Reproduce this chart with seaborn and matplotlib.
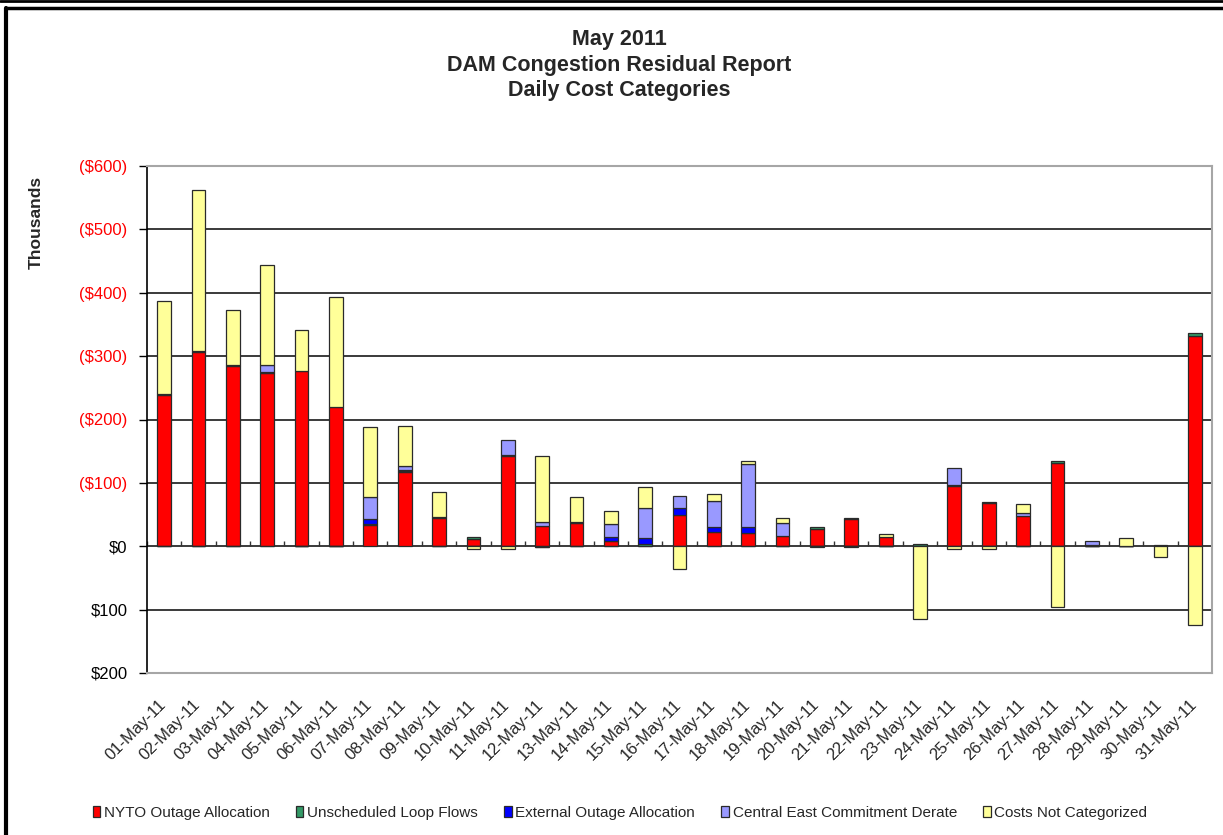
import numpy as np
import matplotlib
matplotlib.use("Agg")
import matplotlib.pyplot as plt
import matplotlib.transforms as mtransforms
import seaborn as sns
from matplotlib.lines import Line2D

# ---------------- data (thousands of $; negative = cost, drawn upward) ----------------
dates = ["01-May-11", "02-May-11", "03-May-11", "04-May-11", "05-May-11", "06-May-11",
         "07-May-11", "08-May-11", "09-May-11", "10-May-11", "11-May-11", "12-May-11",
         "13-May-11", "14-May-11", "15-May-11", "16-May-11", "17-May-11", "18-May-11",
         "19-May-11", "20-May-11", "21-May-11", "22-May-11", "23-May-11", "24-May-11",
         "25-May-11", "26-May-11", "27-May-11", "28-May-11", "29-May-11", "30-May-11",
         "31-May-11"]

nyto_outage = [-238, -306, -284, -273, -276, -220, -34, -117, -45, -12, -143, -32, -37, -8, 0,
               -49, -23, -21, -16, -28, -43, -15, -1, -95, -68, -47, -132, 0, 0, 0, -331]
loop_flows = [-2, -2, -2, -2, 0, 0, -1, -2, -1, -2, -1, 1, -2, 0, -3,
              0, 0, 0, 0, -2, -2, 0, -2, -2, -2, 0, -3, -2, 0, -2, -6]
external_outage = [0, 0, 0, 0, 0, 0, -8, -1, 0, 0, 0, 0, 0, -6, -10,
                   -11, -7, -9, 0, 0, 0, 0, 0, 0, 0, 0, 0, 0, 0, 0, 0]
central_east = [0, 0, 0, -11, 0, 0, -34, -6, 0, 0, -23, -7, 0, -21, -47,
                -19, -41, -100, -20, 0, 0, 0, 0, -27, 0, -6, 0, -6, 0, 0, 0]
not_categorized = [-147, -254, -87, -158, -66, -173, -111, -64, -40, 4, 5, -104, -38, -21, -34,
                   36, -11, -5, -8, 1, 1, -5, 115, 4, 4, -14, 96, 0, -13, 17, 125]

series_names = ["NYTO Outage Allocation", "Unscheduled Loop Flows", "External Outage Allocation",
                "Central East Commitment Derate", "Costs Not Categorized"]
series_values = [nyto_outage, loop_flows, external_outage, central_east, not_categorized]
series_colors = ["#FF0000", "#339966", "#0000FF", "#9999FF", "#FFFF99"]

y_ticks = [-600, -500, -400, -300, -200, -100, 0, 100, 200]

# ---------------- styling ----------------
sns.set_theme(style="white")
plt.rcParams["font.family"] = ["Liberation Sans", "DejaVu Sans"]

fig = plt.figure(figsize=(12.23, 8.35), dpi=100)
ax = fig.add_axes([147 / 1223, 1 - 673 / 835, (1212 - 147) / 1223, (673 - 166) / 835])

pos_base = np.zeros(len(dates))
neg_base = np.zeros(len(dates))
for name, vals, color in zip(series_names, series_values, series_colors):
    v = np.asarray(vals, dtype=float)
    bottom = np.where(v >= 0, pos_base, neg_base)
    sns.barplot(x=dates, y=v, bottom=bottom, color=color, saturation=1, width=0.4,
                edgecolor="#2a2a2a", linewidth=0.9, errorbar=None, label=name, ax=ax,
                zorder=3)
    pos_base += np.clip(v, 0, None)
    neg_base += np.clip(v, None, 0)

# axis setup (Excel-style: costs in parentheses, plotted upward)
ax.set_ylim(max(y_ticks), min(y_ticks))
ax.set_xlim(-0.5, len(dates) - 0.5)
ax.set_yticks(y_ticks)
ax.set_yticklabels([f"(${-t})" if t < 0 else f"${t}" for t in y_ticks])
for lbl, t in zip(ax.get_yticklabels(), y_ticks):
    lbl.set_color("#FF0000" if t < 0 else "black")
ax.tick_params(axis="y", length=6, width=1, color="black", direction="out", pad=8,
               labelsize=12, left=True)
ax.yaxis.grid(True, color="#2b2b2b", linewidth=1.3)
ax.set_axisbelow(True)
ax.set_xlabel("")
ax.set_ylabel("")

# zero-line category ticks between bars
ax.vlines(np.arange(len(dates) + 1) - 0.5, 0, -9, color="#333333", linewidth=1, zorder=2)

ax.tick_params(axis="x", length=0, pad=17, labelsize=12)
shift = mtransforms.ScaledTranslation(-6 / 100, 0, fig.dpi_scale_trans)
for lbl in ax.get_xticklabels():
    lbl.set_rotation(45)
    lbl.set_ha("right")
    lbl.set_rotation_mode("anchor")
    lbl.set_transform(lbl.get_transform() + shift)

for side in ["top", "right", "bottom"]:
    ax.spines[side].set_color("#a6a6a6")
    ax.spines[side].set_linewidth(1.5)
ax.spines["left"].set_color("black")
ax.spines["left"].set_linewidth(1.2)

# titles
fig.text(619 / 1223, 1 - 29 / 835,
         "May 2011\nDAM Congestion Residual Report\nDaily Cost Categories",
         ha="center", va="top", fontsize=15.5, fontweight="bold", linespacing=1.29)
fig.text(36 / 1223, 1 - 222 / 835, "Thousands", rotation=90, ha="center", va="center",
         fontsize=12.5, fontweight="bold")

# legend
handles, labels = ax.get_legend_handles_labels()
fig.legend(handles, labels, loc="center", bbox_to_anchor=(620 / 1223, 1 - 813 / 835), ncol=5,
           frameon=False, fontsize=11, handlelength=0.5, handleheight=0.75,
           handletextpad=0.25, columnspacing=1.7)
if ax.get_legend() is not None:
    ax.get_legend().remove()

# outer frame lines
fig.add_artist(Line2D([6 / 1223, 6 / 1223], [0, 1 - 8 / 835], transform=fig.transFigure,
                      color="black", linewidth=3))
fig.add_artist(Line2D([6 / 1223, 1], [1 - 8 / 835, 1 - 8 / 835], transform=fig.transFigure,
                      color="black", linewidth=2.5))
fig.add_artist(Line2D([0, 1], [1 - 1 / 835, 1 - 1 / 835], transform=fig.transFigure,
                      color="black", linewidth=2))

fig.savefig("out.png", dpi=100)
